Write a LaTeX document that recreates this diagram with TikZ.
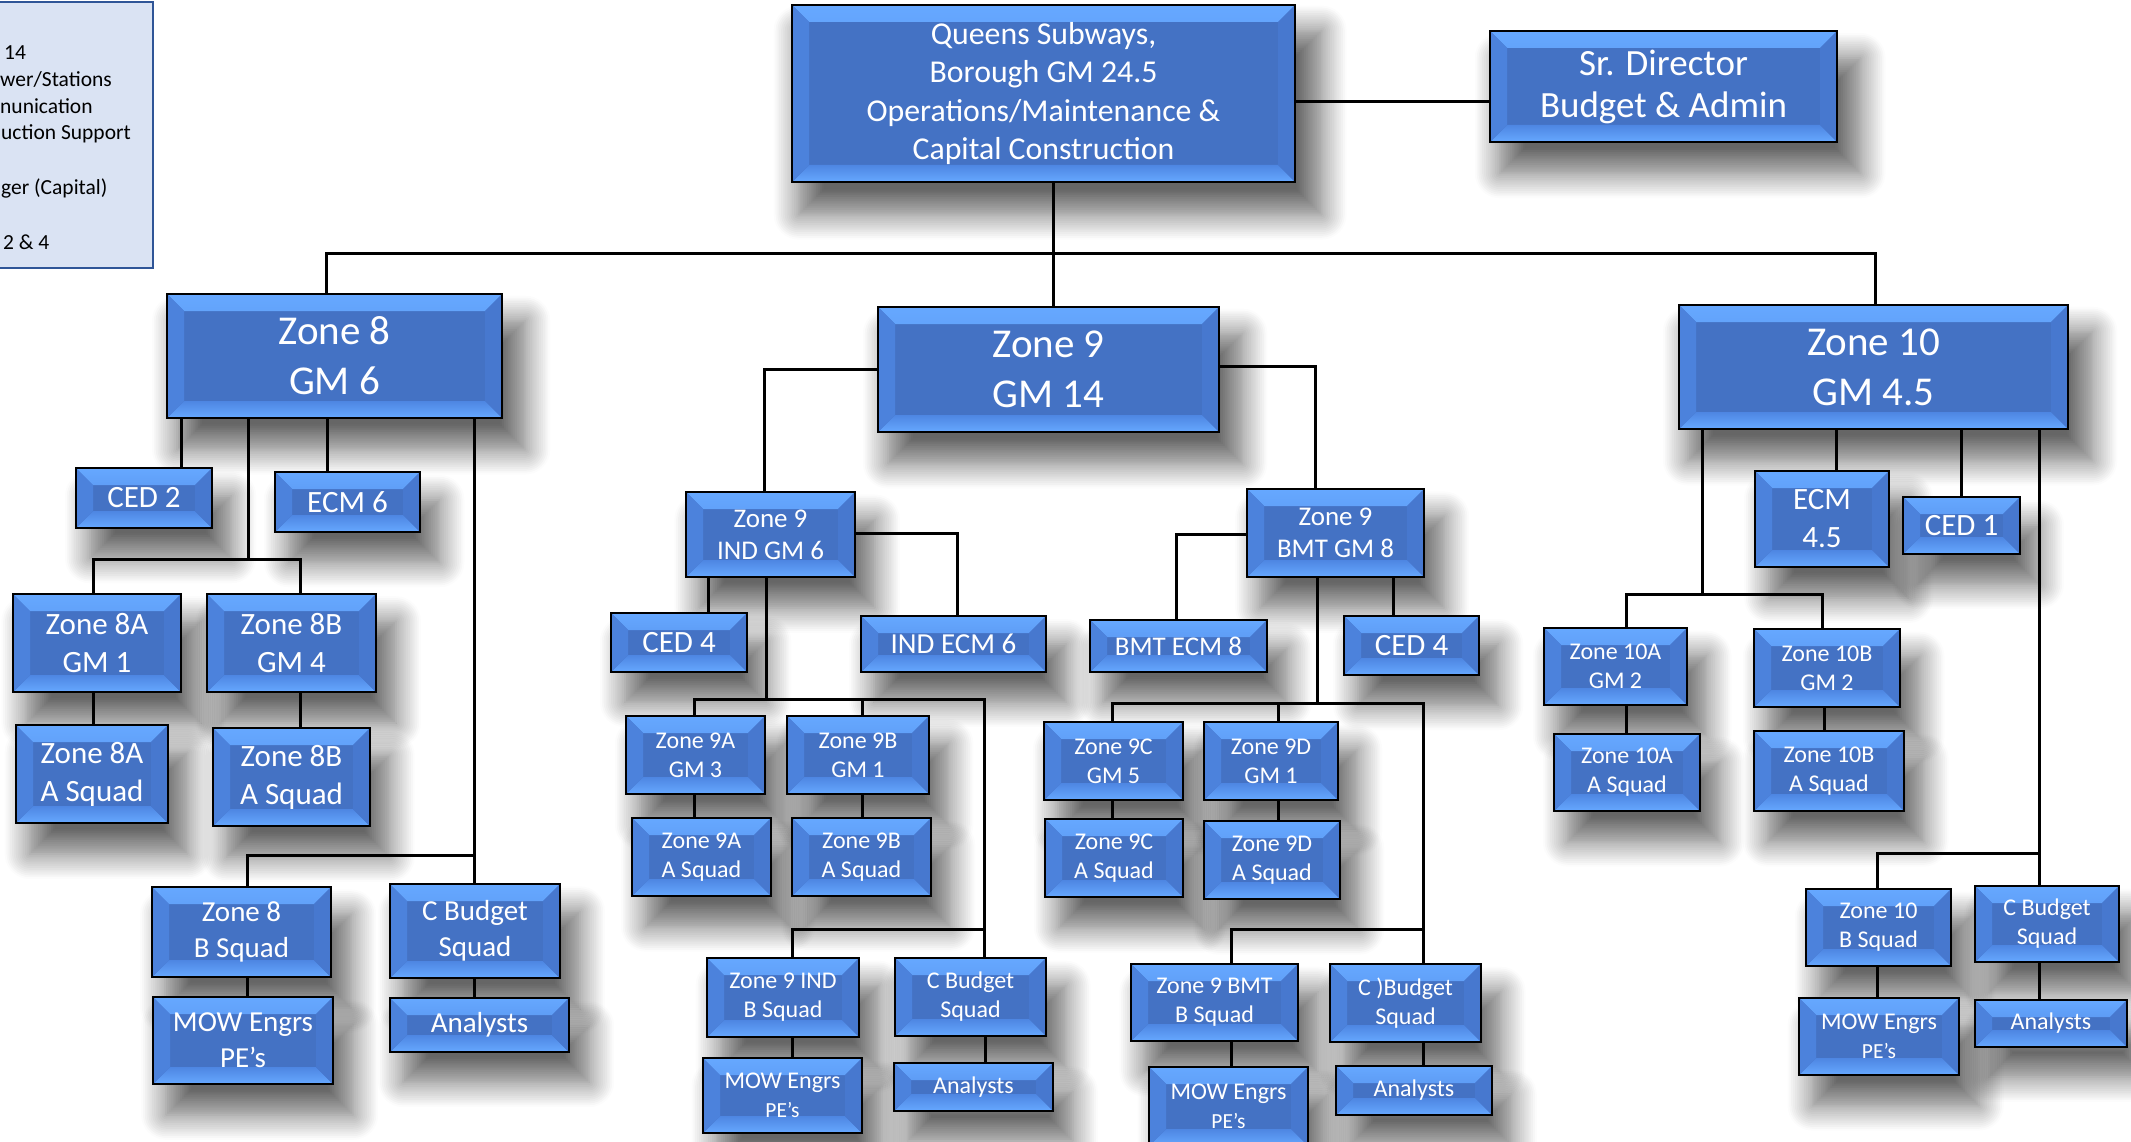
\documentclass[tikz,border=0pt]{standalone}
\usepackage{fontspec}
\setmainfont{Carlito}
\usetikzlibrary{shadows.blur,backgrounds}

\definecolor{boxblue}{HTML}{4472C4}
\definecolor{bevtop}{HTML}{66A8FF}
\definecolor{bevinner}{HTML}{4E86E2}
\definecolor{bevleft}{HTML}{4C82DC}
\definecolor{bevright}{HTML}{4778CF}
\definecolor{legfill}{HTML}{DAE3F3}
\definecolor{legedge}{HTML}{2F5597}

\newcommand\bv{17pt}

\tikzset{
  tile/.style={rectangle, draw=black, line width=2.6pt, fill=boxblue,
    text=white, align=center, inner sep=0pt, outer sep=0pt,
    path picture={
      \fill[top color=bevtop, bottom color=bevinner]
        (path picture bounding box.north west) -- (path picture bounding box.north east)
        -- ([xshift=-\bv,yshift=-\bv]path picture bounding box.north east)
        -- ([xshift=\bv,yshift=-\bv]path picture bounding box.north west) -- cycle;
      \fill[top color=bevinner, bottom color=bevtop]
        (path picture bounding box.south west) -- (path picture bounding box.south east)
        -- ([xshift=-\bv,yshift=\bv]path picture bounding box.south east)
        -- ([xshift=\bv,yshift=\bv]path picture bounding box.south west) -- cycle;
      \fill[bevleft]
        (path picture bounding box.north west)
        -- ([xshift=\bv,yshift=-\bv]path picture bounding box.north west)
        -- ([xshift=\bv,yshift=\bv]path picture bounding box.south west)
        -- (path picture bounding box.south west) -- cycle;
      \fill[bevright]
        (path picture bounding box.north east)
        -- ([xshift=-\bv,yshift=-\bv]path picture bounding box.north east)
        -- ([xshift=-\bv,yshift=\bv]path picture bounding box.south east)
        -- (path picture bounding box.south east) -- cycle;
    }},
  conn/.style={draw=black, line width=3pt},
  soft shadow/.style={blur shadow={shadow xshift=16pt, shadow yshift=-28pt,
      shadow scale=1.04, shadow blur radius=24pt, shadow blur steps=14,
      shadow opacity=60}},
  fzone/.style={font=\fontsize{41}{50}\selectfont},
  fmain/.style={font=\fontsize{31.8}{38.5}\selectfont},
  fdir/.style={font=\fontsize{37}{42}\selectfont},
  fmid/.style={font=\fontsize{31}{38}\selectfont},
  fsq/.style={font=\fontsize{29}{36}\selectfont},
  fsub/.style={font=\fontsize{27}{32}\selectfont},
  fsmall/.style={font=\fontsize{24}{29}\selectfont},
  legtext/.style={font=\fontsize{21.5}{27}\selectfont, text=black,
    inner sep=0pt, anchor=base west},
}

% \orgbox[extra]{name}{x1}{y1}{x2}{y2}{font style}{text}
\newcommand\orgbox[8][]{%
  \pgfmathsetmacro\obw{#5-#3}%
  \pgfmathsetmacro\obh{#6-#4}%
  \pgfmathsetmacro\obx{(#3+#5)/2}%
  \pgfmathsetmacro\oby{(#4+#6)/2}%
  \node[tile, minimum width=\obw pt, minimum height=\obh pt, #7, #1] (#2) at (\obx,\oby) {#8};%
}
% vertical link from one box to the box below, at a given x
\newcommand\drop[3]{\draw[conn] (#1.south -| #3,0) -- (#2.north -| #3,0);}
\newcommand\pes{{\fontsize{21.5}{26}\selectfont PE’s}}

\begin{document}
\begin{tikzpicture}[x=1pt,y=-1pt]
\useasboundingbox (0,0) rectangle (2131,1142);

% legend panel, partly outside the page
\node[rectangle, draw=legedge, fill=legfill, line width=2pt, minimum width=173pt,
  minimum height=266pt, inner sep=0pt] (legend) at (66.5,135) {};
\node[legtext] (lg1) at (4,60) {14};
\node[legtext] (lg2) at (0,87) {wer/Stations};
\node[legtext] (lg3) at (0,114) {nunication};
\node[legtext] (lg4) at (1,140) {uction Support};
\node[legtext] (lg5) at (1,195) {ger (Capital)};
\node[legtext] (lg6) at (3,250) {2 \& 4};

% top level
\orgbox{main}{792}{5}{1295}{182}{fmain}{Queens Subways,\\Borough GM 24.5\\Operations/Maintenance \&\\Capital Construction}
\orgbox{srdir}{1490}{31}{1837}{142}{fdir}{Sr. Director\\Budget \& Admin}

% zones
\orgbox{z8}{167}{294}{502}{418}{fzone}{Zone 8\\GM 6}
\orgbox{z9}{878}{307}{1219}{432}{fzone}{Zone 9\\GM 14}
\orgbox{z10}{1679}{305}{2068}{429}{fzone}{Zone 10\\GM 4.5}

% zone 8
\orgbox{ced2}{76}{468}{212}{528}{fmid}{CED 2}
\orgbox{ecm6}{275}{472}{420}{532}{fmid}{ECM 6}
\orgbox{z8a}{13}{594}{181}{692}{fmid}{Zone 8A\\GM 1}
\orgbox{z8b}{207}{594}{376}{692}{fmid}{Zone 8B\\GM 4}
\orgbox{z8aa}{16}{725}{168}{823}{fmid}{Zone 8A\\A Squad}
\orgbox{z8ba}{213}{728}{370}{826}{fmid}{Zone 8B\\A Squad}
\orgbox{z8bs}{152}{887}{331}{977}{fsq}{Zone 8\\B Squad}
\orgbox{z8mow}{153}{997}{333}{1084}{fsq}{MOW Engrs\\PE’s}
\orgbox{z8cb}{390}{884}{560}{978}{fsq}{C Budget\\Squad}
\orgbox{z8an}{390}{998}{569}{1052}{fsq}{Analysts}

% zone 9, IND side
\orgbox{z9ind}{686}{492}{855}{577}{fsub}{Zone 9\\IND GM 6}
\orgbox{ced4a}{611}{613}{747}{672}{fmid}{CED 4}
\orgbox{indecm}{861}{616}{1046}{672}{fsq}{IND ECM 6}
\orgbox{z9a}{626}{716}{765}{794}{fsmall}{Zone 9A\\GM 3}
\orgbox{z9b}{787}{716}{929}{794}{fsmall}{Zone 9B\\GM 1}
\orgbox{z9aa}{632}{818}{771}{896}{fsmall}{Zone 9A\\A Squad}
\orgbox{z9ba}{792}{818}{931}{896}{fsmall}{Zone 9B\\A Squad}
\orgbox{z9ibs}{707}{958}{859}{1037}{fsmall}{Zone 9 IND\\B Squad}
\orgbox{z9imow}{703}{1058}{862}{1133}{fsmall}{MOW Engrs\\\pes}
\orgbox{z9icb}{895}{958}{1046}{1036}{fsmall}{C Budget\\Squad}
\orgbox{z9ian}{894}{1063}{1053}{1111}{fsmall}{Analysts}

% zone 9, BMT side
\orgbox{z9bmt}{1247}{489}{1424}{577}{fsub}{Zone 9\\BMT GM 8}
\orgbox{bmtecm}{1090}{620}{1267}{672}{fsub}{BMT ECM 8}
\orgbox{ced4b}{1344}{616}{1479}{675}{fmid}{CED 4}
\orgbox{z9c}{1044}{722}{1183}{800}{fsmall}{Zone 9C\\GM 5}
\orgbox{z9d}{1204}{722}{1338}{800}{fsmall}{Zone 9D\\GM 1}
\orgbox{z9ca}{1045}{819}{1183}{897}{fsmall}{Zone 9C\\A Squad}
\orgbox{z9da}{1204}{821}{1340}{899}{fsmall}{Zone 9D\\A Squad}
\orgbox{z9bbs}{1131}{964}{1298}{1041}{fsmall}{Zone 9 BMT\\B Squad}
\orgbox{z9bmow}{1149}{1067}{1308}{1146}{fsmall}{MOW Engrs\\\pes}
\orgbox{z9bcb}{1330}{964}{1481}{1042}{fsmall}{C )Budget\\Squad}
\orgbox{z9ban}{1336}{1066}{1492}{1115}{fsmall}{Analysts}

% zone 10
\orgbox{ecm45}{1755}{471}{1889}{567}{fmid}{ECM\\4.5}
\orgbox{ced1}{1903}{497}{2020}{554}{fmid}{CED 1}
\orgbox{z10a}{1544}{628}{1687}{705}{fsmall}{Zone 10A\\GM 2}
\orgbox{z10b}{1754}{629}{1900}{707}{fsmall}{Zone 10B\\GM 2}
\orgbox{z10aa}{1554}{734}{1700}{811}{fsmall}{Zone 10A\\A Squad}
\orgbox{z10ba}{1754}{731}{1904}{811}{fsmall}{Zone 10B\\A Squad}
\orgbox{z10bs}{1806}{889}{1951}{966}{fsmall}{Zone 10\\B Squad}
\orgbox{z10mow}{1799}{998}{1959}{1075}{fsmall}{MOW Engrs\\\pes}
\orgbox{z10cb}{1975}{886}{2119}{962}{fsmall}{C Budget\\Squad}
\orgbox{z10an}{1975}{1000}{2127}{1047}{fsmall}{Analysts}

% soft drop shadows behind every box
\begin{scope}[on background layer]
\foreach \n in {main,srdir,z8,z9,z10,ced2,ecm6,z8a,z8b,z8aa,z8ba,z8bs,z8mow,z8cb,z8an,
  z9ind,ced4a,indecm,z9a,z9b,z9aa,z9ba,z9ibs,z9imow,z9icb,z9ian,
  z9bmt,bmtecm,ced4b,z9c,z9d,z9ca,z9da,z9bbs,z9bmow,z9bcb,z9ban,
  ecm45,ced1,z10a,z10b,z10aa,z10ba,z10bs,z10mow,z10cb,z10an}
  {\path[soft shadow] (\n.north west) rectangle (\n.south east);}
\end{scope}

% top connectors
\draw[conn] (main.east |- 0,102) -- (srdir.west |- 0,102);
\coordinate (jtop) at (1053,253);
\draw[conn] (main.south -| jtop) -- (z9.north -| jtop);
\draw[conn] (z8.north -| 326,0) |- (jtop);
\draw[conn] (z10.north -| 1875,0) |- (jtop);

% zone 8 connectors
\drop{z8}{ced2}{181}
\drop{z8}{ecm6}{327}
\coordinate (j8ab) at (248,559);
\draw[conn] (z8.south -| j8ab) -- (j8ab);
\draw[conn] (z8a.north -| 93,0) |- (j8ab);
\draw[conn] (z8b.north -| 300,0) |- (j8ab);
\drop{z8a}{z8aa}{93}
\drop{z8b}{z8ba}{300}
\coordinate (j8low) at (474,855);
\draw[conn] (z8.south -| j8low) -- (z8cb.north -| j8low);
\draw[conn] (z8bs.north -| 247,0) |- (j8low);
\drop{z8bs}{z8mow}{247}
\drop{z8cb}{z8an}{474}

% zone 9 connectors
\draw[conn] (z9.west |- 0,369) -| (z9ind.north -| 764,0);
\draw[conn] (z9.east |- 0,366) -| (z9bmt.north -| 1315,0);
\draw[conn] (z9ind.east |- 0,533) -| (indecm.north -| 957,0);
\drop{z9ind}{ced4a}{708}
\coordinate (j9i) at (766,699);
\draw[conn] (z9ind.south -| j9i) -- (j9i);
\draw[conn] (z9a.north -| 694,0) |- (j9i);
\draw[conn] (z9b.north -| 862,0) |- (j9i);
\draw[conn] (z9icb.north -| 984,0) |- (j9i);
\coordinate (j9il) at (984,929);
\draw[conn] (z9ibs.north -| 792,0) |- (j9il);
\drop{z9a}{z9aa}{694}
\drop{z9b}{z9ba}{862}
\drop{z9ibs}{z9imow}{792}
\drop{z9icb}{z9ian}{985}

\draw[conn] (z9bmt.west |- 0,534) -| (bmtecm.north -| 1176,0);
\drop{z9bmt}{ced4b}{1393}
\coordinate (j9b) at (1317,703);
\draw[conn] (z9bmt.south -| j9b) -- (j9b);
\draw[conn] (z9c.north -| 1112,0) |- (j9b);
\draw[conn] (z9d.north -| 1278,0) |- (j9b);
\draw[conn] (z9bcb.north -| 1423,0) |- (j9b);
\coordinate (j9bl) at (1423,929);
\draw[conn] (z9bbs.north -| 1231,0) |- (j9bl);
\drop{z9c}{z9ca}{1112}
\drop{z9d}{z9da}{1278}
\drop{z9bbs}{z9bmow}{1231}
\drop{z9bcb}{z9ban}{1423}

% zone 10 connectors
\coordinate (j10) at (1702,594);
\draw[conn] (z10.south -| j10) -- (j10);
\draw[conn] (z10a.north -| 1626,0) |- (j10);
\draw[conn] (z10b.north -| 1822,0) |- (j10);
\drop{z10}{ecm45}{1836}
\drop{z10}{ced1}{1961}
\coordinate (j10l) at (2039,853);
\draw[conn] (z10.south -| j10l) -- (z10cb.north -| j10l);
\draw[conn] (z10bs.north -| 1877,0) |- (j10l);
\drop{z10a}{z10aa}{1626}
\drop{z10b}{z10ba}{1824}
\drop{z10bs}{z10mow}{1877}
\drop{z10cb}{z10an}{2039}
\end{tikzpicture}
\end{document}
